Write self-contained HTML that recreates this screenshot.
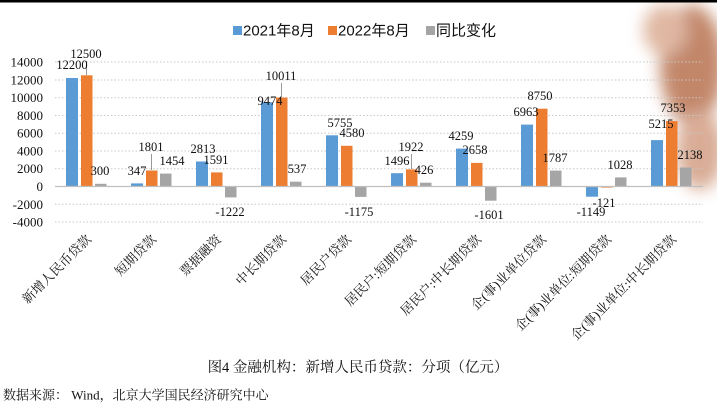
<!DOCTYPE html>
<html><head><meta charset="utf-8"><style>
body{margin:0;background:#fff}
svg{display:block}
text{font-family:"Liberation Serif","Noto Serif CJK SC",serif;fill:#111}
.sans{font-family:"Liberation Sans","Noto Sans CJK SC",sans-serif}
</style></head><body>
<svg width="717" height="403" viewBox="0 0 717 403" xmlns="http://www.w3.org/2000/svg">
<defs><filter id="bl" x="-50%" y="-50%" width="200%" height="200%"><feGaussianBlur stdDeviation="8"/></filter></defs>
<rect width="717" height="403" fill="#fff"/>
<g filter="url(#bl)" opacity="0.7">
<ellipse cx="692" cy="65" rx="32" ry="60" fill="#a9542a"/>
<ellipse cx="700" cy="150" rx="24" ry="40" fill="#c98a6a"/>
<ellipse cx="665" cy="30" rx="22" ry="25" fill="#d39a7a"/>
</g>
<rect x="0" y="0" width="717" height="2.5" fill="#000"/>
<g stroke="#c8c8c8" stroke-width="1" stroke-dasharray="1.5,2">
<line x1="55" x2="703" y1="62" y2="62"/><line x1="55" x2="703" y1="80" y2="80"/>
<line x1="55" x2="703" y1="97.7" y2="97.7"/><line x1="55" x2="703" y1="115.5" y2="115.5"/>
<line x1="55" x2="703" y1="133.2" y2="133.2"/><line x1="55" x2="703" y1="151" y2="151"/>
<line x1="55" x2="703" y1="168.7" y2="168.7"/><line x1="55" x2="703" y1="204.3" y2="204.3"/>
<line x1="55" x2="703" y1="222" y2="222"/>
</g>
<g font-size="13" text-anchor="end" dominant-baseline="central">
<text x="43" y="62">14000</text><text x="43" y="80">12000</text><text x="43" y="97.7">10000</text>
<text x="43" y="115.5">8000</text><text x="43" y="133.2">6000</text><text x="43" y="151">4000</text>
<text x="43" y="168.7">2000</text><text x="43" y="186.5">0</text><text x="43" y="204.3">-2000</text>
<text x="43" y="222">-4000</text>
</g>
<g>
<rect x="66" y="78" width="12" height="108.5" fill="#5b9bd5"/>
<rect x="81" y="75.3" width="11.5" height="111.2" fill="#ed7d31"/>
<rect x="95" y="183.8" width="11.5" height="2.7" fill="#a5a5a5"/>
<rect x="131" y="183.4" width="12" height="3.1" fill="#5b9bd5"/>
<rect x="146" y="170.5" width="11.5" height="16" fill="#ed7d31"/>
<rect x="160" y="173.6" width="11.5" height="12.9" fill="#a5a5a5"/>
<rect x="196" y="161.5" width="12" height="25" fill="#5b9bd5"/>
<rect x="211" y="172.4" width="11.5" height="14.1" fill="#ed7d31"/>
<rect x="225" y="186.5" width="11.5" height="10.9" fill="#a5a5a5"/>
<rect x="261" y="102.2" width="12" height="84.3" fill="#5b9bd5"/>
<rect x="276" y="97.5" width="11.5" height="89" fill="#ed7d31"/>
<rect x="290" y="181.7" width="11.5" height="4.8" fill="#a5a5a5"/>
<rect x="326" y="135.3" width="12" height="51.2" fill="#5b9bd5"/>
<rect x="341" y="145.8" width="11.5" height="40.7" fill="#ed7d31"/>
<rect x="355" y="186.5" width="11.5" height="10.4" fill="#a5a5a5"/>
<rect x="391" y="173.2" width="12" height="13.3" fill="#5b9bd5"/>
<rect x="406" y="169.4" width="11.5" height="17.1" fill="#ed7d31"/>
<rect x="420" y="182.7" width="11.5" height="3.8" fill="#a5a5a5"/>
<rect x="456" y="148.6" width="12" height="37.9" fill="#5b9bd5"/>
<rect x="471" y="162.9" width="11.5" height="23.6" fill="#ed7d31"/>
<rect x="485" y="186.5" width="11.5" height="14.2" fill="#a5a5a5"/>
<rect x="521" y="124.6" width="12" height="61.9" fill="#5b9bd5"/>
<rect x="536" y="108.7" width="11.5" height="77.8" fill="#ed7d31"/>
<rect x="550" y="170.6" width="11.5" height="15.9" fill="#a5a5a5"/>
<rect x="586" y="186.5" width="12" height="10.2" fill="#5b9bd5"/>
<rect x="601" y="186.5" width="11.5" height="1.1" fill="#ed7d31"/>
<rect x="615" y="177.4" width="11.5" height="9.1" fill="#a5a5a5"/>
<rect x="651" y="140.1" width="12" height="46.4" fill="#5b9bd5"/>
<rect x="666" y="121.1" width="11.5" height="65.4" fill="#ed7d31"/>
<rect x="680" y="167.5" width="11.5" height="19" fill="#a5a5a5"/>
</g>
<line x1="55" x2="703" y1="186.5" y2="186.5" stroke="#bfbfbf" stroke-width="1.2"/>
<g stroke="#999" stroke-width="1">
<line x1="86.5" x2="86.5" y1="61" y2="75"/>
<line x1="151.5" x2="151.5" y1="154" y2="170"/>
<line x1="281.5" x2="281.5" y1="83" y2="97"/>
<line x1="411.5" x2="411.5" y1="154" y2="169"/>
</g>
<g font-size="12.5" text-anchor="middle" dominant-baseline="central">
<text x="72" y="65">12200</text><text x="86" y="54">12500</text><text x="100" y="171">300</text>
<text x="137" y="171">347</text><text x="151" y="147">1801</text><text x="172" y="161">1454</text>
<text x="203" y="149">2813</text><text x="216" y="160">1591</text><text x="230" y="212">-1222</text>
<text x="270" y="101">9474</text><text x="281" y="76">10011</text><text x="297" y="169">537</text>
<text x="340" y="123">5755</text><text x="352" y="133">4580</text><text x="359" y="212">-1175</text>
<text x="397" y="161">1496</text><text x="411" y="147">1922</text><text x="424" y="170">426</text>
<text x="461" y="136">4259</text><text x="475" y="150">2658</text><text x="489" y="215">-1601</text>
<text x="526" y="112">6963</text><text x="540" y="96">8750</text><text x="555" y="158">1787</text>
<text x="591" y="212">-1149</text><text x="604" y="203">-121</text><text x="620" y="165">1028</text>
<text x="661" y="124">5215</text><text x="673" y="108">7353</text><text x="690" y="155">2138</text>
</g>
<g font-size="13" text-anchor="end">
<text transform="translate(92,240) rotate(-45)">新增人民币贷款</text>
<text transform="translate(157,240) rotate(-45)">短期贷款</text>
<text transform="translate(222,240) rotate(-45)">票据融资</text>
<text transform="translate(287,240) rotate(-45)">中长期贷款</text>
<text transform="translate(352,240) rotate(-45)">居民户贷款</text>
<text transform="translate(417,240) rotate(-45)">居民户:短期贷款</text>
<text transform="translate(482,240) rotate(-45)">居民户:中长期贷款</text>
<text transform="translate(547,240) rotate(-45)">企(事)业单位贷款</text>
<text transform="translate(612,240) rotate(-45)">企(事)业单位:短期贷款</text>
<text transform="translate(677,240) rotate(-45)">企(事)业单位:中长期贷款</text>
</g>
<g font-size="15" dominant-baseline="central" class="sans">
<rect x="233" y="26" width="9" height="9" fill="#5b9bd5"/><text class="sans" x="243" y="31">2021年8月</text>
<rect x="328" y="26" width="9" height="9" fill="#ed7d31"/><text class="sans" x="338" y="31">2022年8月</text>
<rect x="426" y="26" width="9" height="9" fill="#a5a5a5"/><text class="sans" x="436" y="31">同比变化</text>
</g>
<text x="358" y="368" font-size="14.5" text-anchor="middle" dominant-baseline="central">图4  金融机构：新增人民币贷款：分项（亿元）</text>
<text x="3" y="395" font-size="13" dominant-baseline="central">数据来源：  Wind，北京大学国民经济研究中心</text>
</svg>
</body></html>
